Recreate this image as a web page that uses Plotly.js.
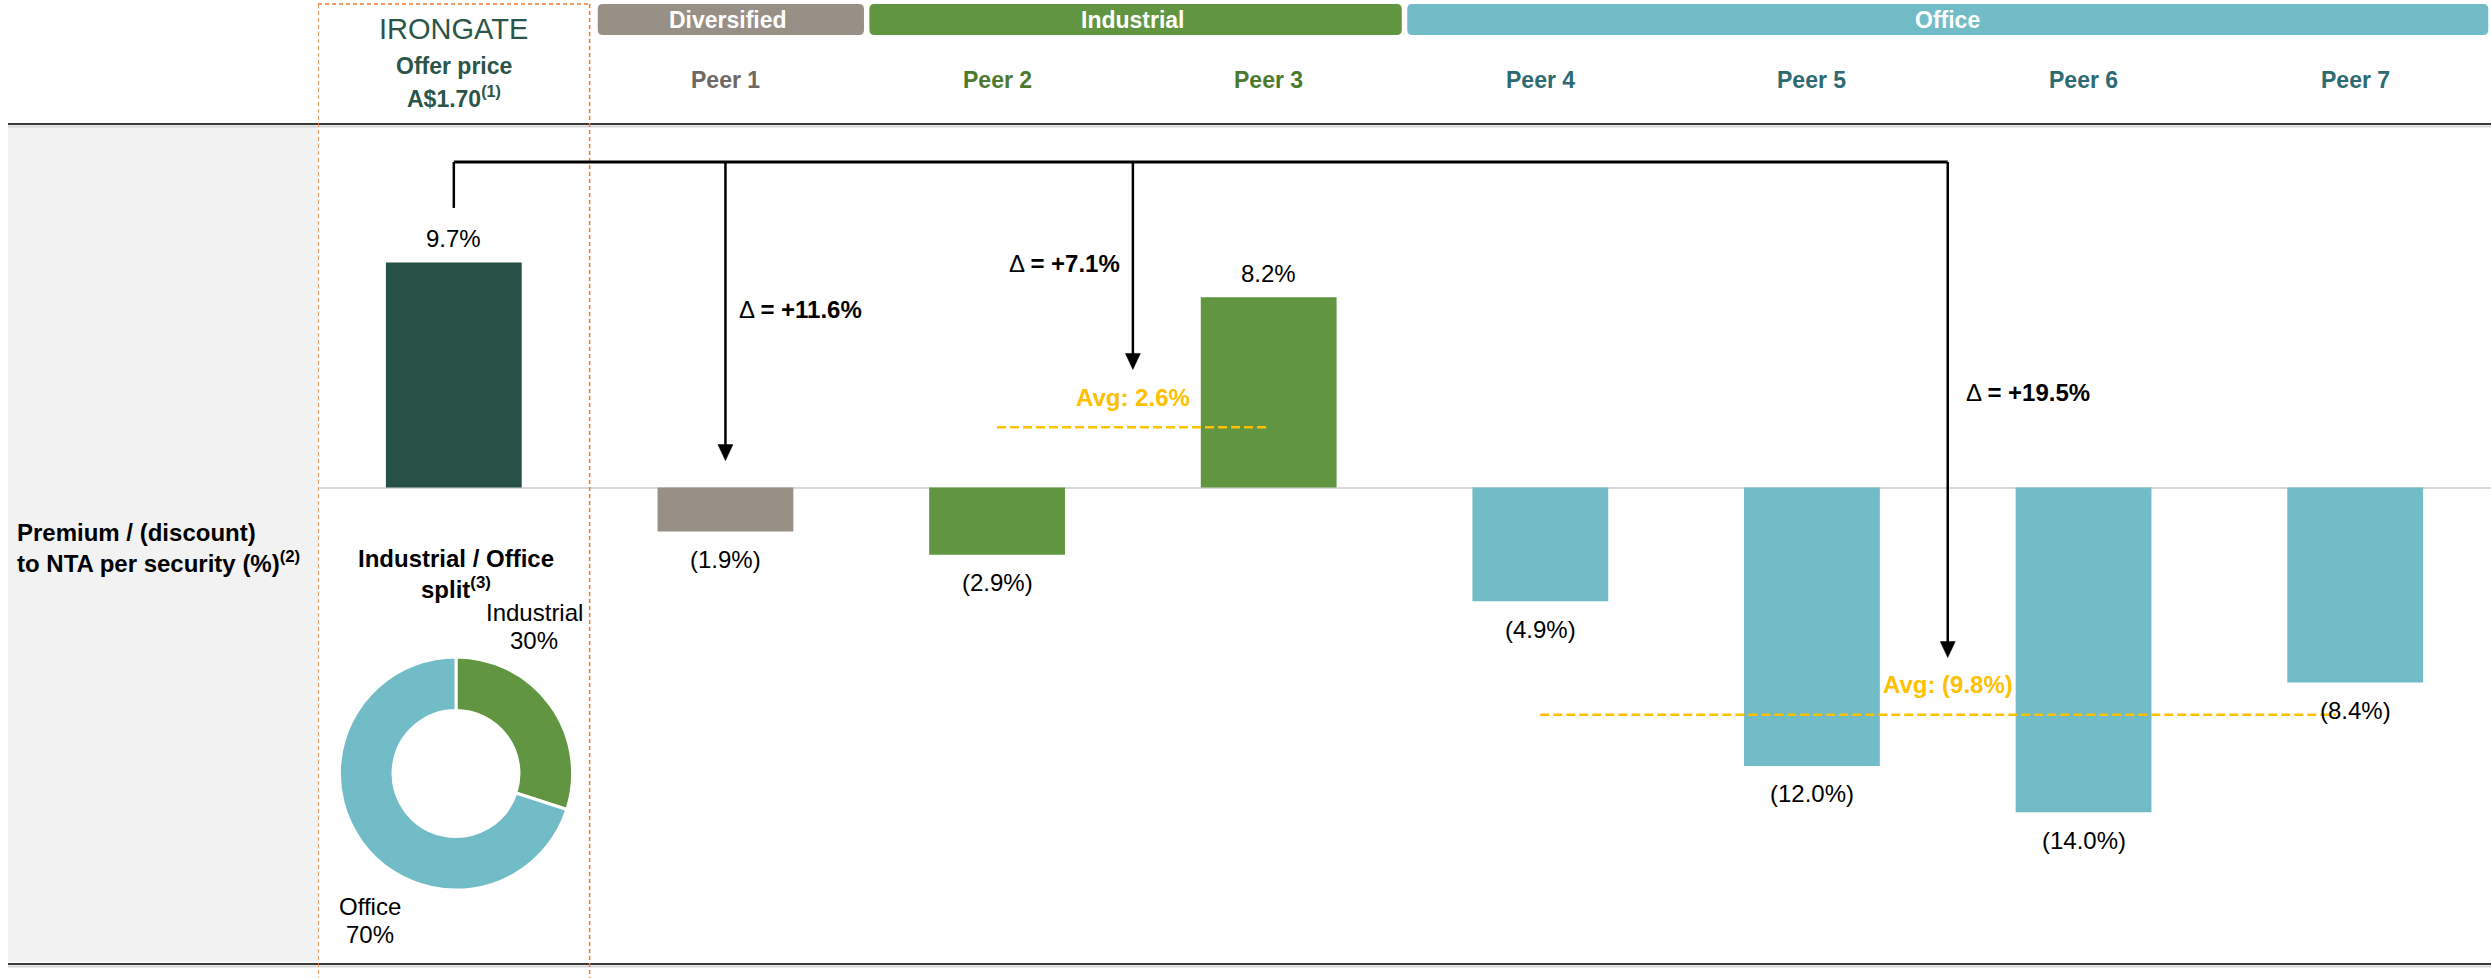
<!DOCTYPE html>
<html>
<head>
<meta charset="utf-8">
<script src="https://cdn.plot.ly/plotly-3.0.1.min.js"></script>
<style>
html,body{margin:0;padding:0;background:#fff;}
#chart{width:2491px;height:978px;}
</style>
</head>
<body>
<div id="chart"></div>
<script>
// ---------------- DATA ----------------
const categories = ['IRONGATE', 'Peer 1', 'Peer 2', 'Peer 3', 'Peer 4', 'Peer 5', 'Peer 6', 'Peer 7'];
const sectors = ['Irongate', 'Diversified', 'Industrial', 'Industrial', 'Office', 'Office', 'Office', 'Office'];
const premium = [9.7, -1.9, -2.9, 8.2, -4.9, -12.0, -14.0, -8.4];
const groupNames = ['Diversified', 'Industrial', 'Office'];
const groupAverages = [-1.9, 2.6, -9.8];
const groupDeltas = [11.6, 7.1, 19.5];
const splitLabels = ['Industrial', 'Office'];
const splitValues = [30, 70];
const offerPrice = 'A$1.70';
const rowTitle = ['Premium / (discount)', 'to NTA per security (%)'];
const splitTitle = ['Industrial / Office', 'split'];

// ---------------- STYLE / LAYOUT ----------------
const W = 2491, H = 978;
const px = v => v / W;
const py = v => 1 - v / H;
const FONT = 'Liberation Sans, Arial, Helvetica, sans-serif';
const BAR_COLORS = {Irongate: '#264f45', Diversified: '#988f87', Industrial: '#629541', Office: '#72bcc7'};
const TEXT_COLORS = {Diversified: '#706862', Industrial: '#4b7a2f', Office: '#2d6a72'};
const AVG_COLOR = '#FFC000';
const BRAND = '#2a5548';

// pixel scale helpers for the category / value axes
const CAT_PX = (2491 - 318) / 8;      // pixels per category
const VAL_PX = 840 / (15.668 + 20.539); // pixels per y unit

const fmt = v => v < 0 ? '(' + Math.abs(v).toFixed(1) + '%)' : v.toFixed(1) + '%';
const xIdx = categories.map((c, i) => i);

const spans = groupNames.map(g => {
  const idx = sectors.map((s, i) => s === g ? i : -1).filter(i => i >= 0);
  return {first: idx[0], last: idx[idx.length - 1], mid: (idx[0] + idx[idx.length - 1]) / 2, n: idx.length};
});

// arrow geometry (layout positions in y-axis units)
const CONNECT_Y = 14.03, STUB_END = 12.05;
const ARROW_TIPS = [1.16, 5.09, -7.33];
const DELTA_POS = [
  {y: 7.67, anchor: 'left', shift: 12},
  {y: 9.66, anchor: 'right', shift: -11},
  {y: 4.10, anchor: 'left', shift: 16}
];
const AVG_TRIM = [0, 0, 0.07];
const HEADER_INSET = [[0.03, 0.01], [0.03, -0.01], [0.01, -0.01]];

function rrect(x0, x1, y0, y1, rx, ry) {
  return `M${x0 + rx},${y0} L${x1 - rx},${y0} Q${x1},${y0} ${x1},${y0 + ry} L${x1},${y1 - ry} Q${x1},${y1} ${x1 - rx},${y1} L${x0 + rx},${y1} Q${x0},${y1} ${x0},${y1 - ry} L${x0},${y0 + ry} Q${x0},${y0} ${x0 + rx},${y0} Z`;
}

// ---------------- TRACES ----------------
const barTrace = {
  type: 'bar',
  x: xIdx,
  y: premium,
  width: 0.5,
  marker: {color: sectors.map(s => BAR_COLORS[s]), line: {width: 0}},
  hoverinfo: 'skip',
  showlegend: false
};

const pieR = 116.6, pieCx = 456, pieCy = 773.5;
const pieTrace = {
  type: 'pie',
  labels: splitLabels,
  values: splitValues,
  hole: 0.54,
  sort: false,
  direction: 'clockwise',
  rotation: 0,
  textinfo: 'none',
  hoverinfo: 'skip',
  showlegend: false,
  marker: {colors: [BAR_COLORS.Industrial, BAR_COLORS.Office], line: {color: '#ffffff', width: 3}},
  domain: {x: [px(pieCx - pieR), px(pieCx + pieR)], y: [py(pieCy + pieR), py(pieCy - pieR)]}
};

// ---------------- SHAPES ----------------
const shapes = [];
// grey row-title panel
shapes.push({type: 'rect', xref: 'paper', yref: 'paper', x0: px(8), x1: px(318), y0: py(962), y1: py(127),
  fillcolor: '#f2f2f2', line: {width: 0}, layer: 'below'});
// top & bottom rules
[124, 964].forEach(yy => {
  shapes.push({type: 'line', xref: 'paper', yref: 'paper', x0: px(8), x1: 1, y0: py(yy), y1: py(yy), line: {color: '#3a3a3a', width: 2}});
  shapes.push({type: 'line', xref: 'paper', yref: 'paper', x0: px(8), x1: 1, y0: py(yy + 2.5), y1: py(yy + 2.5), line: {color: '#d6d6d6', width: 2}});
});
// dashed orange highlight box around Irongate column
const boxLine = {color: '#ED7D31', width: 1.5, dash: '4px,3px'};
shapes.push({type: 'line', xref: 'x', yref: 'paper', x0: -0.5, x1: -0.5, y0: py(4), y1: 0, line: boxLine});
shapes.push({type: 'line', xref: 'x', yref: 'paper', x0: 0.5, x1: 0.5, y0: py(4), y1: 0, line: boxLine});
shapes.push({type: 'line', xref: 'x', yref: 'paper', x0: -0.5, x1: 0.5, y0: py(4), y1: py(4), line: boxLine});
// group header bars (rounded)
spans.forEach((s, gi) => {
  const x0 = s.first - 0.5 + HEADER_INSET[gi][0];
  const x1 = s.last + 0.5 + HEADER_INSET[gi][1];
  shapes.push({type: 'path', xref: 'x', yref: 'paper',
    path: rrect(x0, x1, py(35), py(4), 5 / CAT_PX, 5 / H),
    fillcolor: BAR_COLORS[groupNames[gi]], line: {width: 0}});
});
// average lines
spans.forEach((s, gi) => {
  if (s.n < 2) return;
  shapes.push({type: 'line', xref: 'x', yref: 'y', x0: s.first, x1: s.last - AVG_TRIM[gi],
    y0: groupAverages[gi], y1: groupAverages[gi], line: {color: AVG_COLOR, width: 2.5, dash: '9px,4px'}});
});
// connector line from Irongate to groups
shapes.push({type: 'line', xref: 'x', yref: 'y', x0: 0, x1: spans[spans.length - 1].mid, y0: CONNECT_Y, y1: CONNECT_Y,
  line: {color: '#000', width: 3}});
shapes.push({type: 'line', xref: 'x', yref: 'y', x0: 0, x1: 0, y0: CONNECT_Y, y1: STUB_END,
  line: {color: '#000', width: 2.5}});
// arrows: vertical stems + filled heads
const HEAD_W = 15 / CAT_PX, HEAD_H = 16 / VAL_PX;
spans.forEach((s, gi) => {
  const tip = ARROW_TIPS[gi];
  shapes.push({type: 'line', xref: 'x', yref: 'y', x0: s.mid, x1: s.mid, y0: CONNECT_Y, y1: tip + HEAD_H * 0.9,
    line: {color: '#000', width: 2.5}});
  shapes.push({type: 'path', xref: 'x', yref: 'y',
    path: `M${s.mid - HEAD_W / 2},${tip + HEAD_H} L${s.mid + HEAD_W / 2},${tip + HEAD_H} L${s.mid},${tip} Z`,
    fillcolor: '#000', line: {color: '#000', width: 0.5}});
});

// ---------------- ANNOTATIONS ----------------
const ann = [];
const txt = (o) => Object.assign({showarrow: false, xanchor: 'center', yanchor: 'middle'}, o);

// Irongate header
ann.push(txt({xref: 'x', yref: 'paper', x: 0, y: py(29), text: 'IRONGATE', font: {size: 29, color: BRAND, family: FONT}}));
ann.push(txt({xref: 'x', yref: 'paper', x: 0, y: py(66), text: '<b>Offer price</b>', font: {size: 23, color: BRAND, family: FONT}}));
ann.push(txt({xref: 'x', yref: 'paper', x: 0, y: py(97), text: '<b>' + offerPrice + '<sup>(1)</sup></b>', font: {size: 23, color: BRAND, family: FONT}}));

// peer labels
categories.forEach((c, i) => {
  if (i === 0) return;
  ann.push(txt({xref: 'x', yref: 'paper', x: i, y: py(80), text: '<b>' + c + '</b>', font: {size: 23, color: TEXT_COLORS[sectors[i]], family: FONT}}));
});
// group header labels
spans.forEach((s, gi) => {
  ann.push(txt({xref: 'x', yref: 'paper', x: s.mid + (gi === 0 ? 0.01 : 0), y: py(20), text: '<b>' + groupNames[gi] + '</b>', font: {size: 23, color: '#ffffff', family: FONT}}));
});

// row title
ann.push(txt({xref: 'paper', yref: 'paper', x: px(15), xanchor: 'left', y: py(532), text: '<b>' + rowTitle[0] + '</b>', font: {size: 24, color: '#000', family: FONT}}));
ann.push(txt({xref: 'paper', yref: 'paper', x: px(15), xanchor: 'left', y: py(562), text: '<b>' + rowTitle[1] + '<sup>(2)</sup></b>', font: {size: 24, color: '#000', family: FONT}}));

// split title & pie labels
ann.push(txt({xref: 'paper', yref: 'paper', x: px(456), y: py(558), text: '<b>' + splitTitle[0] + '</b>', font: {size: 24, color: '#000', family: FONT}}));
ann.push(txt({xref: 'paper', yref: 'paper', x: px(456), y: py(588), text: '<b>' + splitTitle[1] + '<sup>(3)</sup></b>', font: {size: 24, color: '#000', family: FONT}}));
const pieLabelPos = [{x: 534, y: 612}, {x: 370, y: 906}];
splitLabels.forEach((l, i) => {
  ann.push(txt({xref: 'paper', yref: 'paper', x: px(pieLabelPos[i].x), y: py(pieLabelPos[i].y), text: l, font: {size: 24, color: '#000', family: FONT}}));
  ann.push(txt({xref: 'paper', yref: 'paper', x: px(pieLabelPos[i].x), y: py(pieLabelPos[i].y + 28), text: splitValues[i] + '%', font: {size: 24, color: '#000', family: FONT}}));
});

// value labels
premium.forEach((v, i) => {
  ann.push(txt({xref: 'x', yref: 'y', x: i, y: v, yshift: v >= 0 ? 24 : -28, text: fmt(v), font: {size: 24, color: '#000', family: FONT}}));
});

// average labels
spans.forEach((s, gi) => {
  if (s.n < 2) return;
  ann.push(txt({xref: 'x', yref: 'y', x: s.mid, y: groupAverages[gi], yshift: 30, text: '<b>Avg: ' + fmt(groupAverages[gi]) + '</b>', font: {size: 24, color: AVG_COLOR, family: FONT}}));
});

// delta labels
spans.forEach((s, gi) => {
  const d = DELTA_POS[gi];
  ann.push(txt({xref: 'x', yref: 'y', x: s.mid, y: d.y, xanchor: d.anchor, xshift: d.shift,
    text: 'Δ <b>= +' + groupDeltas[gi].toFixed(1) + '%</b>', font: {size: 24, color: '#000', family: FONT}}));
});

// ---------------- LAYOUT ----------------
const layout = {
  width: W,
  height: H,
  margin: {l: 0, r: 0, t: 0, b: 0, pad: 0},
  paper_bgcolor: '#ffffff',
  plot_bgcolor: 'rgba(0,0,0,0)',
  font: {family: FONT, size: 24, color: '#000'},
  showlegend: false,
  bargap: 0.5,
  xaxis: {domain: [px(318), 1], range: [-0.5, 7.5], showgrid: false, zeroline: false, showticklabels: false, ticks: '', fixedrange: true},
  yaxis: {domain: [py(964), py(124)], range: [-20.539, 15.668], showgrid: false, showticklabels: false, ticks: '',
          zeroline: true, zerolinecolor: '#d9d9d9', zerolinewidth: 2, fixedrange: true},
  shapes: shapes,
  annotations: ann
};

Plotly.newPlot('chart', [barTrace, pieTrace], layout, {displayModeBar: false, staticPlot: true});
</script>
</body>
</html>
